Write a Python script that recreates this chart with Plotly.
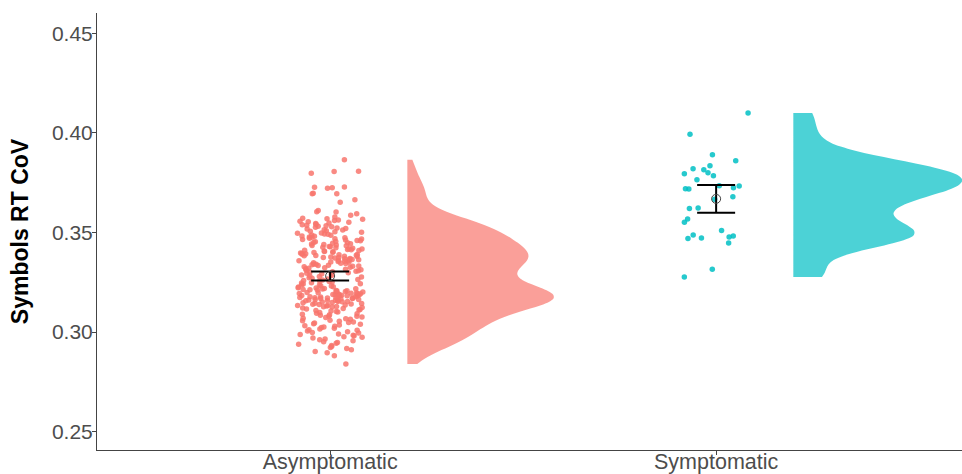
import numpy as np
import plotly.graph_objects as go

categories = ["Asymptomatic", "Symptomatic"]

asym_values = [
    0.2840,
    0.2881, 0.2896,
    0.2903, 0.2911, 0.2917, 0.2922,
    0.2928, 0.2933, 0.2939, 0.2944, 0.2948,
    0.2952, 0.2956, 0.2961, 0.2965, 0.2970, 0.2974,
    0.2977, 0.2981, 0.2984, 0.2988, 0.2991, 0.2995, 0.2998,
    0.3002, 0.3005, 0.3009, 0.3012, 0.3016, 0.3019, 0.3023,
    0.3026, 0.3029, 0.3032, 0.3036, 0.3039, 0.3042, 0.3045, 0.3048,
    0.3051, 0.3054, 0.3057, 0.3060, 0.3064, 0.3067, 0.3070, 0.3073,
    0.3076, 0.3079, 0.3081, 0.3084, 0.3087, 0.3090, 0.3092, 0.3095, 0.3098,
    0.3101, 0.3103, 0.3106, 0.3108, 0.3111, 0.3113, 0.3116, 0.3118, 0.3121, 0.3123,
    0.3126, 0.3127, 0.3129, 0.3131, 0.3133, 0.3134, 0.3136, 0.3138, 0.3140, 0.3141, 0.3143, 0.3145, 0.3147, 0.3149,
    0.3151, 0.3152, 0.3153, 0.3155, 0.3156, 0.3157, 0.3159, 0.3160, 0.3161, 0.3163, 0.3164, 0.3165, 0.3167, 0.3168,
    0.3169, 0.3170, 0.3171, 0.3172, 0.3173, 0.3174,
    0.3176, 0.3177, 0.3178, 0.3180, 0.3181, 0.3182, 0.3184, 0.3185, 0.3186, 0.3188, 0.3189, 0.3190, 0.3191, 0.3192,
    0.3193, 0.3194, 0.3195, 0.3197, 0.3198, 0.3199,
    0.3201, 0.3203, 0.3204, 0.3206, 0.3208, 0.3209, 0.3211, 0.3213, 0.3214, 0.3216, 0.3218, 0.3219, 0.3221, 0.3223,
    0.3226, 0.3228, 0.3231, 0.3233, 0.3236, 0.3238, 0.3241, 0.3243, 0.3246, 0.3248,
    0.3251, 0.3254, 0.3256, 0.3259, 0.3262, 0.3264, 0.3267, 0.3270, 0.3273,
    0.3276, 0.3279, 0.3281, 0.3284, 0.3287, 0.3290, 0.3292, 0.3295, 0.3298,
    0.3301, 0.3303, 0.3306, 0.3308, 0.3311, 0.3313, 0.3316, 0.3318, 0.3321, 0.3323,
    0.3326, 0.3328, 0.3330, 0.3332, 0.3334, 0.3336, 0.3338, 0.3340, 0.3342, 0.3344, 0.3346, 0.3348,
    0.3351, 0.3352, 0.3354, 0.3356, 0.3358, 0.3359, 0.3361, 0.3363, 0.3365, 0.3366, 0.3368, 0.3370, 0.3372, 0.3374,
    0.3376, 0.3377, 0.3379, 0.3381, 0.3383, 0.3384, 0.3386, 0.3388, 0.3390, 0.3391, 0.3393, 0.3395, 0.3397, 0.3399,
    0.3401, 0.3403, 0.3405, 0.3407, 0.3409, 0.3411, 0.3413, 0.3415, 0.3417, 0.3419, 0.3421, 0.3423,
    0.3426, 0.3428, 0.3430, 0.3433, 0.3435, 0.3437, 0.3440, 0.3442, 0.3444, 0.3446, 0.3448,
    0.3451, 0.3453, 0.3455, 0.3458, 0.3460, 0.3462, 0.3465, 0.3467, 0.3469, 0.3471, 0.3474,
    0.3476, 0.3478, 0.3481, 0.3483, 0.3486, 0.3488, 0.3491, 0.3493, 0.3496, 0.3498,
    0.3501, 0.3504, 0.3506, 0.3509, 0.3512, 0.3514, 0.3517, 0.3520, 0.3523,
    0.3526, 0.3529, 0.3531, 0.3534, 0.3537, 0.3539, 0.3542, 0.3545, 0.3548,
    0.3551, 0.3554, 0.3557, 0.3560, 0.3563, 0.3566, 0.3569, 0.3572,
    0.3578, 0.3586, 0.3594,
    0.3603, 0.3604, 0.3610,
    0.3652, 0.3665,
    0.3694, 0.3695, 0.3697,
    0.3722,
    0.3725, 0.3727, 0.3729,
    0.3797,
    0.3806, 0.3808,
    0.3865,
]

sym_values = [
    0.4100, 0.3993, 0.3890, 0.3860, 0.3835, 0.3815, 0.3820, 0.3800, 0.3785, 0.3795,
    0.3765, 0.3735, 0.3733, 0.3725, 0.3720, 0.3718, 0.3680, 0.3667, 0.3623, 0.3621,
    0.3568, 0.3552, 0.3510, 0.3488, 0.3483, 0.3477, 0.3472, 0.3470, 0.3447, 0.3315,
    0.3277,
]

y_ticks = [0.25, 0.30, 0.35, 0.40, 0.45]

point_colors = ["rgba(248,118,109,0.85)", "rgba(0,191,196,0.85)"]
violin_colors = ["rgba(248,118,109,0.7)", "rgba(0,191,196,0.7)"]
bw_adjust = [0.9, 0.75]

groups = [np.array(asym_values), np.array(sym_values)]


def nrd0(v):
    sd = np.std(v, ddof=1)
    iqr = np.subtract(*np.percentile(v, [75, 25]))
    return 0.9 * min(sd, iqr / 1.34) * len(v) ** (-0.2)


def kde_peak(v, bw):
    grid = np.linspace(v.min(), v.max(), 512)
    d = np.exp(-0.5 * ((grid[:, None] - v[None, :]) / bw) ** 2).sum(axis=1)
    return d.max() / (len(v) * bw * np.sqrt(2 * np.pi))


bws = [nrd0(g) * a for g, a in zip(groups, bw_adjust)]
peaks = [kde_peak(g, b) for g, b in zip(groups, bws)]
asym_extent = 0.379
extents = [asym_extent * p / peaks[0] for p in peaks]

fig = go.Figure()

for i, g in enumerate(groups):
    pos = i + 1
    fig.add_trace(go.Violin(
        x=[pos + 0.2] * len(g), y=g, side="positive", width=2 * extents[i],
        scalemode="width", spanmode="hard", bandwidth=bws[i],
        fillcolor=violin_colors[i], line=dict(width=0, color=violin_colors[i]),
        points=False, box_visible=False, meanline_visible=False,
        opacity=1, showlegend=False, hoverinfo="skip",
    ))

# deterministic horizontal jitter (hash of the point index)
for i, g in enumerate(groups):
    pos = i + 1
    idx = np.arange(len(g)) + 1 + 1000 * i
    h = np.sin(idx * 12.9898 + 78.233) * 43758.5453
    u = h - np.floor(h)
    jit = 0.085 * (2 * u - 1)
    fig.add_trace(go.Scatter(
        x=pos + jit, y=g, mode="markers",
        marker=dict(color=point_colors[i], size=5.5, line=dict(width=0)),
        showlegend=False, hoverinfo="skip",
    ))

for i, g in enumerate(groups):
    pos = i + 1
    n = len(g)
    m = g.mean()
    se = g.std(ddof=1) / np.sqrt(n)
    t = 1.96 + 2.4 / (n - 1)
    fig.add_trace(go.Scatter(
        x=[pos], y=[m], mode="markers",
        marker=dict(symbol="circle-open", size=9, color="#444444", line=dict(width=1)),
        error_y=dict(type="data", array=[t * se], color="black", thickness=2, width=19),
        showlegend=False, hoverinfo="skip",
    ))

fig.update_layout(
    width=962, height=474,
    margin=dict(l=97, r=0, t=13, b=24),
    paper_bgcolor="white", plot_bgcolor="white",
    violinmode="overlay",
    font=dict(family="Liberation Sans, Arial, sans-serif", color="#4D4D4D"),
)
fig.update_xaxes(
    range=[0.396, 2.637], tickvals=[1, 2], ticktext=categories,
    showline=True, linecolor="#444444", linewidth=1,
    ticks="outside", ticklen=4, tickcolor="#444444",
    tickfont=dict(size=21.5, color="#4D4D4D"), ticklabelstandoff=-12,
    showgrid=False, zeroline=False, automargin=False,
)
fig.update_yaxes(
    range=[0.2408, 0.4602], tickvals=y_ticks, ticktext=[f"{v:.2f}" for v in y_ticks],
    showline=True, linecolor="#444444", linewidth=1,
    ticks="outside", ticklen=4, tickcolor="#444444",
    tickfont=dict(size=21, color="#4D4D4D"), ticklabelstandoff=-5,
    showgrid=False, zeroline=False, automargin=False,
    title=dict(text="Symbols RT CoV", font=dict(size=23, color="black", weight="bold"), standoff=16),
)

fig.write_html(
    "out.html",
    config={"displayModeBar": False},
    post_script="document.body.style.margin='0';document.body.style.overflow='hidden';",
)
